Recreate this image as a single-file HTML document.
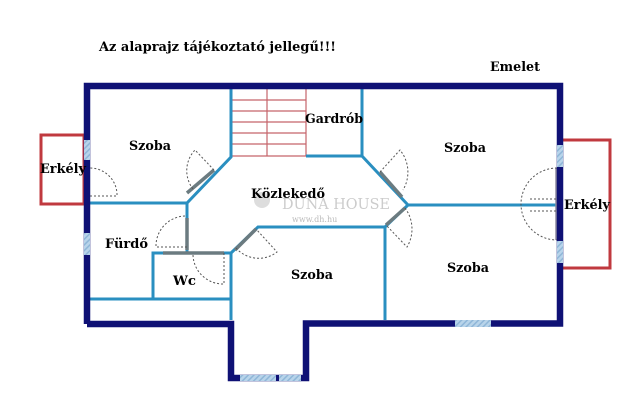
<!DOCTYPE html>
<html><head><meta charset="utf-8"><style>
html,body{margin:0;padding:0;background:#fff;}
svg{display:block}
text{font-family:"DejaVu Serif","Liberation Serif",serif;font-weight:900;fill:#000;}
</style></head><body>
<svg width="640" height="409" viewBox="0 0 640 409" xmlns="http://www.w3.org/2000/svg">
<defs>
<pattern id="h" width="4" height="4" patternUnits="userSpaceOnUse" patternTransform="rotate(45)">
<rect width="4" height="4" fill="#b8d4ea"/><rect width="1.5" height="4" fill="#8fb6d8"/>
</pattern>
</defs>
<rect width="640" height="409" fill="#fff"/>
<text x="99" y="51" font-size="13" font-weight="bold" textLength="237" lengthAdjust="spacingAndGlyphs">Az alaprajz tájékoztató jellegű!!!</text>
<text x="490" y="71" font-size="13" font-weight="bold" textLength="50" lengthAdjust="spacingAndGlyphs">Emelet</text>

<!-- balconies -->
<rect x="41" y="135" width="43" height="69" fill="none" stroke="#c0393f" stroke-width="3"/>
<rect x="560" y="140" width="50" height="128" fill="none" stroke="#c0393f" stroke-width="3"/>

<!-- stairs -->
<g stroke="#c5646a" stroke-width="1.2">
<line x1="232" y1="100" x2="306" y2="100"/><line x1="232" y1="111" x2="306" y2="111"/>
<line x1="232" y1="122" x2="306" y2="122"/><line x1="232" y1="133" x2="306" y2="133"/>
<line x1="232" y1="144" x2="306" y2="144"/><line x1="232" y1="156" x2="306" y2="156"/>
<line x1="267" y1="89" x2="267" y2="156"/><line x1="306" y1="89" x2="306" y2="156"/>
</g>

<!-- interior walls -->
<g stroke="#2a8fc0" stroke-width="3" fill="none" stroke-linejoin="miter">
<polyline points="231,89 231,157 187,203 90,203"/>
<polyline points="187,203 187,253 153,253 153,299"/>
<line x1="90" y1="299" x2="231" y2="299"/>
<polyline points="153,253 231,253 231,320"/>
<polyline points="231,253 258,227 385,227 385,320"/>
<polyline points="306,156 362,156 362,89"/>
<polyline points="362,156 408,205 557,205"/>
<line x1="408" y1="205" x2="385" y2="227"/>
</g>

<!-- door leaves (gray) -->
<g stroke="#6b7b80" stroke-width="3.5">
<line x1="187" y1="193" x2="214" y2="170"/>
<line x1="187" y1="218" x2="187" y2="250"/>
<line x1="163" y1="253" x2="224" y2="253" />
<line x1="235" y1="250" x2="256" y2="229"/>
<line x1="380" y1="172" x2="402" y2="197"/>
<line x1="386" y1="225" x2="405" y2="208"/>
<line x1="87" y1="165" x2="87" y2="196" stroke="#8d8aa0"/>
<line x1="557" y1="168" x2="557" y2="240" stroke="#8d8aa0"/>
</g>
<!-- door arcs -->
<g stroke="#555" stroke-width="1" fill="none" stroke-dasharray="2,2">
<path d="M90,196 L117,196 A27,27 0 0 0 90,168"/>
<path d="M193,189 A30,30 0 0 1 195,150 L214,170"/>
<path d="M187,247 L156,247 A30,30 0 0 1 187,216"/>
<path d="M224,253 L224,284 A30,30 0 0 1 193,253"/>
<path d="M236,248 A30,30 0 0 0 277,252 L256,229"/>
<path d="M380,172 L400,150 A35,35 0 0 1 403,190"/>
<path d="M405,208 A35,35 0 0 1 407,247 L386,225"/>
<path d="M557,168 A35,35 0 0 0 557,240"/>
<line x1="530" y1="199" x2="557" y2="199"/><line x1="530" y1="211" x2="557" y2="211"/>
</g>

<!-- outer walls -->
<g stroke="#0f1175" stroke-width="6.5" fill="none" stroke-linejoin="miter">
<polyline points="87,324 87,86 560,86 560,323.5 306,323.5 306,378 231,378 231,324 87,324"/>
</g>
<!-- windows -->
<rect x="84" y="140" width="6" height="20" fill="url(#h)"/>
<rect x="84" y="233" width="6" height="22" fill="url(#h)"/>
<rect x="557" y="145" width="6" height="22" fill="url(#h)"/>
<rect x="557" y="241" width="6" height="22" fill="url(#h)"/>
<rect x="455" y="320" width="36" height="7" fill="url(#h)"/>
<rect x="240" y="375" width="36" height="6" fill="url(#h)"/>
<rect x="279" y="375" width="22" height="6" fill="url(#h)"/>

<!-- watermark -->
<circle cx="262" cy="200" r="8" fill="#ddd"/>
<text x="282" y="209" font-size="15" style="fill:#ccc;font-weight:normal" textLength="108" lengthAdjust="spacingAndGlyphs">DUNA HOUSE</text>
<text x="292" y="222" font-size="8" style="fill:#bbb;font-weight:normal">www.dh.hu</text>

<!-- labels -->
<g font-size="13" font-weight="bold">
<text x="129" y="150" textLength="42" lengthAdjust="spacingAndGlyphs">Szoba</text>
<text x="305" y="123" textLength="58" lengthAdjust="spacingAndGlyphs">Gardrób</text>
<text x="444" y="152" textLength="42" lengthAdjust="spacingAndGlyphs">Szoba</text>
<text x="40" y="173" textLength="46" lengthAdjust="spacingAndGlyphs">Erkély</text>
<text x="564" y="209" textLength="46" lengthAdjust="spacingAndGlyphs">Erkély</text>
<text x="251" y="198" textLength="74" lengthAdjust="spacingAndGlyphs">Közlekedő</text>
<text x="105" y="248" textLength="43" lengthAdjust="spacingAndGlyphs">Fürdő</text>
<text x="173" y="285" textLength="23" lengthAdjust="spacingAndGlyphs">Wc</text>
<text x="291" y="279" textLength="42" lengthAdjust="spacingAndGlyphs">Szoba</text>
<text x="447" y="272" textLength="42" lengthAdjust="spacingAndGlyphs">Szoba</text>
</g>
</svg>
</body></html>
